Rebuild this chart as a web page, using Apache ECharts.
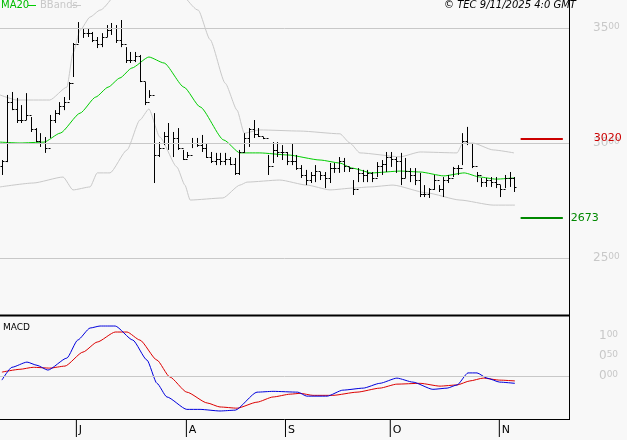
<!DOCTYPE html>
<html><head><meta charset="utf-8">
<script src="https://cdn.jsdelivr.net/npm/echarts@6/dist/echarts.min.js"></script>
<style>html,body{margin:0;padding:0;background:#f8f8f8}#c{width:627px;height:440px}</style>
</head><body><div id="c"></div>
<script>
// Daily bars (index 0..108)
const highs = [29.26,32.09,32.22,31.96,31.65,32.17,31.13,30.65,30.43,30.26,31.22,31.43,31.78,32.00,32.65,34.35,35.26,35.00,35.00,34.83,34.61,34.78,35.13,35.22,35.13,35.35,34.17,33.96,33.96,33.83,32.65,32.30,31.30,30.04,30.48,30.87,30.48,30.65,29.70,29.61,
30.22,30.22,30.35,30.00,29.61,29.57,29.57,29.57,29.39,29.35,29.70,30.43,30.65,31.00,30.65,30.26,29.48,30.04,30.04,29.91,29.61,30.00,29.48,29.04,28.83,28.74,29.04,28.74,28.74,29.13,29.13,29.39,29.35,28.96,28.39,28.91,28.83,28.83,
28.74,29.17,29.26,29.61,29.61,29.39,29.57,29.35,28.91,28.91,28.70,28.17,28.04,28.61,28.17,28.52,28.61,28.96,29.04,30.43,30.70,30.00,28.74,28.48,28.48,28.52,28.52,28.17,28.61,28.74,28.52];
const lows = [28.61,29.17,31.43,30.87,30.87,31.00,30.48,30.04,29.83,29.57,30.22,30.87,31.22,31.43,31.87,32.87,34.35,34.57,34.61,34.39,34.13,34.17,34.61,34.70,34.35,34.17,33.48,33.48,33.52,32.65,31.65,31.96,28.26,29.39,29.91,29.70,29.39,29.70,29.26,29.35,
29.78,29.83,29.61,29.35,29.13,29.04,29.04,29.04,29.04,28.61,28.61,29.57,29.83,30.22,30.26,30.17,28.61,29.13,29.39,29.26,29.04,29.04,28.83,28.48,28.17,28.26,28.30,28.39,28.04,28.26,28.70,28.70,28.74,28.74,27.74,28.30,28.30,28.30,
28.30,28.52,28.61,28.74,28.96,28.70,28.17,28.48,28.30,28.17,27.65,27.65,27.61,27.96,27.87,27.65,28.26,28.52,28.61,29.04,29.91,28.91,28.30,28.09,28.09,28.09,28.04,27.65,28.04,28.09,27.87];
const closes = [29.2,31.8,31.5,31.0,31.0,31.2,30.6,30.1,30.0,29.8,31.0,31.3,31.6,31.8,32.6,34.3,35.0,34.8,34.8,34.5,34.3,34.6,34.9,35.0,34.5,34.3,33.6,33.6,33.8,32.7,31.8,32.1,29.5,29.8,30.3,30.0,30.2,29.8,29.3,29.5,
30.0,29.9,29.8,29.4,29.2,29.3,29.2,29.3,29.1,28.7,29.6,30.2,30.6,30.4,30.3,30.2,29.0,29.7,29.6,29.6,29.2,29.2,28.9,28.6,28.4,28.6,28.8,28.6,28.5,28.9,28.9,29.2,29.0,28.9,28.0,28.7,28.6,28.7,
28.5,29.0,29.1,29.4,29.3,29.2,28.5,28.8,28.6,28.4,27.8,27.8,28.0,28.4,28.0,28.4,28.5,28.9,28.9,30.1,30.0,29.0,28.6,28.3,28.4,28.3,28.2,28.0,28.5,28.5,28.1];
const firstOpen = 29.0;

// Indicator lines: [bar index, value]
const ma20 = [[-0.5,30.04],[3.7,30.0],[8.8,30.04],[12.2,30.43],[16.4,31.30],[19.7,32.0],[22.3,32.43],[24.8,32.83],[27.3,33.26],[30.9,33.74],[34.1,33.48],[38.3,32.43],[41.7,31.57],[46.7,30.13],[50.1,29.57],[54.3,29.57],[60.2,29.48],[67.0,29.26],[71.2,29.13],[73.7,28.91],[77.9,28.70],[83.9,28.78],[88.1,28.74],[93.1,28.57],[97.4,28.70],[100.7,28.52],[104.1,28.43],[107.9,28.48]];
const bbUpper = [[-0.5,32.09],[3.1,31.87],[10.0,31.87],[13.6,32.43],[14.9,33.91],[16.4,34.91],[18.5,35.48],[20.6,35.78],[26.9,37.2],[35.4,37.0],[41.3,35.78],[43.8,34.5],[47.0,32.6],[49.5,31.43],[51.0,30.43],[54.3,30.57],[62.8,30.52],[71.2,30.40],[73.3,30.0],[75.4,29.57],[83.9,29.40],[88.1,29.61],[95.9,29.57],[97.1,30.0],[99.2,30.0],[103.5,29.70],[107.9,29.57]];
const bbLower = [[-0.5,28.09],[6.5,28.26],[12.8,28.52],[14.9,27.96],[18.5,28.09],[20.0,28.70],[22.7,28.70],[26.3,29.70],[29.0,31.0],[30.9,31.48],[33.2,30.26],[36.8,28.96],[38.5,28.17],[39.6,27.52],[46.5,27.61],[50.1,28.17],[51.6,28.30],[58.5,28.39],[64.2,28.17],[69.1,27.96],[73.9,28.04],[77.5,28.09],[82.4,28.17],[89.5,27.83],[96.5,27.52],[103.5,27.30],[108.1,27.30]];
const macd = [[-0.1,-0.1],[2.0,0.22],[5.2,0.35],[7.3,0.27],[9.6,0.15],[13.6,0.45],[15.9,0.9],[18.5,1.2],[20.6,1.25],[23.8,1.25],[27.5,0.9],[30.5,0.4],[32.6,-0.18],[34.7,-0.52],[38.9,-0.83],[41.7,-0.83],[45.9,-0.87],[49.1,-0.85],[53.7,-0.4],[57.1,-0.38],[62.3,-0.4],[64.2,-0.5],[68.5,-0.5],[71.8,-0.35],[76.1,-0.3],[79.6,-0.18],[83.2,-0.05],[86.6,-0.15],[90.8,-0.33],[93.8,-0.3],[95.9,-0.22],[98.2,0.08],[100.1,0.08],[102.2,-0.05],[104.9,-0.15],[108.1,-0.18]];
const signal = [[-0.1,0.1],[3.7,0.17],[6.5,0.22],[10.0,0.2],[13.2,0.25],[17.0,0.6],[20.0,0.85],[23.8,1.1],[26.3,1.1],[29.0,0.9],[32.6,0.4],[35.3,-0.02],[38.9,-0.4],[43.2,-0.67],[45.9,-0.77],[49.5,-0.8],[53.7,-0.65],[57.1,-0.52],[60.7,-0.45],[62.8,-0.43],[65.5,-0.48],[69.7,-0.48],[74.8,-0.4],[79.6,-0.3],[83.2,-0.2],[88.1,-0.18],[92.3,-0.25],[95.9,-0.22],[98.6,-0.12],[101.4,-0.05],[104.9,-0.1],[108.1,-0.12]];

const monthTicks = [15.5, 38.7, 59.6, 81.7, 104.7];
const monthLabels = ['J','A','S','O','N'];
const priceTicks = [25, 30, 35];
const macdTicks = [0, 0.5, 1.0];
const resistance = 30.20, support = 26.73;

const ohlc = highs.map((h,i)=>[i, i===0?firstOpen:closes[i-1], h, lows[i], closes[i]]);
function split(v){const s=v.toFixed(2).split('.');return '{a|'+s[0]+'}{b|'+s[1]+'}';}
const lineCommon = {symbol:'none',smooth:0.2,smoothMonotone:'x'};

const chart = echarts.init(document.getElementById('c'));
chart.setOption({
  backgroundColor:'#f8f8f8',
  animation:false,
  grid:[{left:0,right:58,top:0,height:315},{left:0,right:58,top:316,height:103}],
  xAxis:[
    {type:'value',gridIndex:0,min:-0.5,max:119.5,show:false},
    {type:'value',gridIndex:1,position:'bottom',min:-0.5,max:119.5,axisLine:{show:true,onZero:false,lineStyle:{color:'#000'}},splitLine:{show:false},
     axisTick:{show:false},
     axisLabel:{customValues:monthTicks,align:'left',margin:0,
       formatter:v=>{const i=monthTicks.findIndex(t=>Math.abs(t-v)<0.01);return i>=0?'{t|}{m|'+monthLabels[i]+'}':'';},
       rich:{t:{width:1,height:18,backgroundColor:'#000',verticalAlign:'top'},
             m:{color:'#000',fontSize:11,fontFamily:'DejaVu Sans',padding:[6,0,0,2],verticalAlign:'top'}}}}
  ],
  yAxis:[
    {type:'value',gridIndex:0,position:'right',min:22.52,max:36.22,axisLine:{show:false},axisTick:{show:false},splitLine:{show:false},
     axisLabel:{customValues:priceTicks,margin:24,formatter:v=>split(v),
       rich:{a:{color:'#c8c8c8',fontSize:12,fontFamily:'DejaVu Sans'},b:{color:'#c8c8c8',fontSize:9,verticalAlign:'top',fontFamily:'DejaVu Sans'}}}},
    {type:'value',gridIndex:1,position:'right',min:-1.07,max:1.5,axisLine:{show:false},axisTick:{show:false},splitLine:{show:false},
     axisLabel:{customValues:macdTicks,margin:30,formatter:v=>split(v),
       rich:{a:{color:'#c8c8c8',fontSize:12,fontFamily:'DejaVu Sans'},b:{color:'#c8c8c8',fontSize:9,verticalAlign:'top',fontFamily:'DejaVu Sans'}}}}
  ],
  series:[
    Object.assign({type:'line',xAxisIndex:0,yAxisIndex:0,data:bbUpper,lineStyle:{color:'#c8c8c8',width:1},z:2,
     markLine:{silent:true,symbol:'none',label:{show:false},lineStyle:{color:'#c8c8c8',width:1,type:'solid'},data:priceTicks.map(v=>({yAxis:v}))}},lineCommon),
    Object.assign({type:'line',xAxisIndex:0,yAxisIndex:0,data:bbLower,lineStyle:{color:'#c8c8c8',width:1},z:2},lineCommon),
    Object.assign({type:'line',xAxisIndex:0,yAxisIndex:0,data:ma20,lineStyle:{color:'#00cc00',width:1},z:3},lineCommon),
    {type:'custom',xAxisIndex:0,yAxisIndex:0,data:ohlc,z:4,
     renderItem:(params,api)=>{
       const x=api.value(0);
       const pH=api.coord([x,api.value(2)]),pL=api.coord([x,api.value(3)]);
       const pO=api.coord([x,api.value(1)]),pC=api.coord([x,api.value(4)]);
       const cx=Math.round(pH[0])+0.5;
       const st={stroke:'#000',lineWidth:1};
       return {type:'group',children:[
         {type:'line',shape:{x1:cx,y1:pH[1],x2:cx,y2:pL[1]},style:st},
         {type:'line',shape:{x1:cx-2,y1:Math.round(pO[1])+0.5,x2:cx,y2:Math.round(pO[1])+0.5},style:st},
         {type:'line',shape:{x1:cx,y1:Math.round(pC[1])+0.5,x2:cx+2,y2:Math.round(pC[1])+0.5},style:st}]};
     }},
    {type:'line',xAxisIndex:0,yAxisIndex:0,data:[],symbol:'none',
     markLine:{silent:true,symbol:'none',data:[
       [{coord:[109.3,resistance],lineStyle:{color:'#cc0000',width:2,type:'solid'},
         label:{show:true,position:'end',distance:31,formatter:'3020',color:'#cc0000',fontSize:11,fontFamily:'DejaVu Sans'}},{coord:[118.2,resistance]}],
       [{coord:[109.3,support],lineStyle:{color:'#008800',width:2,type:'solid'},
         label:{show:true,position:'end',distance:8,formatter:'2673',color:'#008800',fontSize:11,fontFamily:'DejaVu Sans'}},{coord:[118.2,support]}]
     ]}},
    Object.assign({type:'line',xAxisIndex:1,yAxisIndex:1,data:signal,lineStyle:{color:'#dd0000',width:1},z:3,
     markLine:{silent:true,symbol:'none',label:{show:false},lineStyle:{color:'#c8c8c8',width:1,type:'solid'},data:[{yAxis:0}]}},lineCommon),
    Object.assign({type:'line',xAxisIndex:1,yAxisIndex:1,data:macd,lineStyle:{color:'#0000dd',width:1},z:4},lineCommon)
  ],
  graphic:[
    {type:'line',shape:{x1:569.5,y1:0,x2:569.5,y2:420},style:{stroke:'#000',lineWidth:1},z:10},
    {type:'line',shape:{x1:0,y1:315.5,x2:570,y2:315.5},style:{stroke:'#000',lineWidth:2},z:10},
    {type:'text',left:1,top:0,style:{text:'MA20',fill:'#00bb00',font:'10px DejaVu Sans'},z:10},
    {type:'line',shape:{x1:28,y1:5.5,x2:36,y2:5.5},style:{stroke:'#00cc00',lineWidth:1},z:10},
    {type:'text',left:40,top:0,style:{text:'BBands',fill:'#c8c8c8',font:'10px DejaVu Sans'},z:10},
    {type:'line',shape:{x1:72,y1:5.5,x2:81,y2:5.5},style:{stroke:'#c8c8c8',lineWidth:1},z:10},
    {type:'text',left:444,top:0,style:{text:'© TEC 9/11/2025 4:0 GMT',fill:'#000',font:'italic 10px DejaVu Sans'},z:10},
    {type:'text',left:3,top:323,style:{text:'MACD',fill:'#000',font:'9px DejaVu Sans'},z:10}
  ]
});
</script></body></html>
